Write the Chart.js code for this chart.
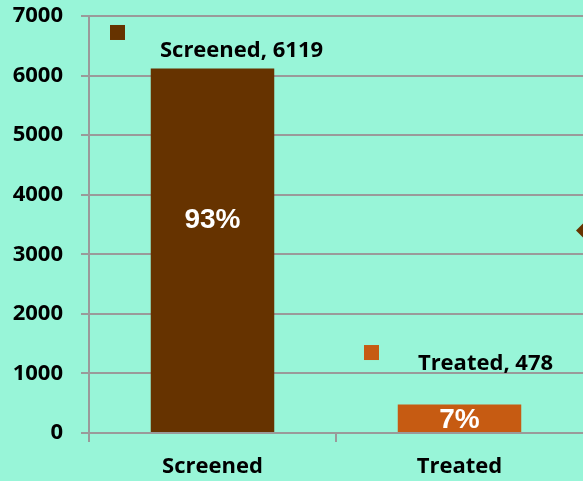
<!DOCTYPE html>
<html>
<head>
<meta charset="utf-8">
<script src="https://cdn.jsdelivr.net/npm/chart.js@4.4.1/dist/chart.umd.min.js"></script>
<style>
  html, body { margin: 0; padding: 0; background: #98F5D8; }
  canvas { display: block; }
</style>
</head>
<body>
<canvas id="screenChart" width="583" height="481"></canvas>
<script>
const categories = ["Screened", "Treated"];
const counts = [6119, 478];
const barColors = ["#663300", "#C65B12"];
const yMax = 7000;
const yStep = 1000;
const markerValue = 3400; // brown diamond cut off at right edge

const total = counts.reduce((a, b) => a + b, 0);
const percents = counts.map((v) => Math.round((v / total) * 100) + "%");

// offsets of the decorations, relative to bar centre / bar top
const deco = [
  { label: [29, -18], square: [-95, -36], pct: 150 },
  { label: [26, -41], square: [-88, -52], pct: null },
];

const bg = "#98F5D8";
const gridCol = "#9a9a9a";
const font = "'Open Sans', sans-serif";

// only the tick marks that belong to a category, none at the far right edge
const xTickCol = (ctx) => (ctx.tick ? gridCol : "rgba(0,0,0,0)");

const extras = {
  id: "extras",
  beforeDraw(chart) {
    const c = chart.ctx;
    c.save();
    c.fillStyle = bg;
    c.fillRect(0, 0, chart.width, chart.height);
    c.restore();
  },
  afterDatasetsDraw(chart) {
    const c = chart.ctx;
    const bars = chart.getDatasetMeta(0).data;
    c.save();
    bars.forEach((bar, i) => {
      const d = deco[i];
      // value label
      c.fillStyle = "#000";
      c.font = "bold 22px " + font;
      c.textAlign = "center";
      c.textBaseline = "middle";
      c.fillText(categories[i] + ", " + counts[i], bar.x + d.label[0], bar.y + d.label[1]);
      // small square marker
      c.fillStyle = barColors[i];
      c.fillRect(bar.x + d.square[0] - 7.5, bar.y + d.square[1] - 7.5, 15, 15);
      // percent inside bar
      c.fillStyle = "#fff";
      c.font = "bold 28px 'Liberation Sans', Arial, sans-serif";
      const py = d.pct === null ? (bar.y + bar.base) / 2 : bar.y + d.pct;
      c.fillText(percents[i], bar.x, py + 2);
    });
    // diamond on the right edge
    const y = chart.scales.y.getPixelForValue(markerValue);
    const x = chart.chartArea.right + 2;
    c.fillStyle = "#663300";
    c.beginPath();
    c.moveTo(x - 9, y);
    c.lineTo(x, y - 9);
    c.lineTo(x + 9, y);
    c.lineTo(x, y + 9);
    c.closePath();
    c.fill();
    c.restore();
  },
};

function draw() {
  new Chart(document.getElementById("screenChart"), {
    type: "bar",
    data: {
      labels: categories,
      datasets: [
        {
          data: counts,
          backgroundColor: barColors,
          categoryPercentage: 1,
          barPercentage: 0.5,
        },
      ],
    },
    options: {
      responsive: false,
      devicePixelRatio: 1,
      animation: false,
      layout: { padding: 0 },
      scales: {
        y: {
          min: 0,
          max: yMax,
          ticks: {
            stepSize: yStep,
            color: "#000",
            padding: 18,
            callback: (v) => String(v),
            font: { family: font, size: 22, weight: "bold" },
          },
          grid: { color: gridCol, lineWidth: 2, tickLength: 8 },
          border: { color: gridCol, width: 2 },
          afterFit: (s) => {
            s.width = 89;
            s.paddingTop = 16;
            s.paddingBottom = 0;
          },
        },
        x: {
          ticks: {
            color: "#000",
            padding: 12,
            font: { family: font, size: 22, weight: "bold" },
          },
          grid: {
            drawOnChartArea: false,
            color: xTickCol,
            tickColor: xTickCol,
            lineWidth: 2,
            tickWidth: (ctx) => (ctx.tick ? 2 : 0),
            tickLength: 9,
            offset: true,
          },
          border: { color: gridCol, width: 2 },
          afterFit: (s) => { s.height = 48; },
        },
      },
      plugins: {
        legend: { display: false },
        tooltip: { enabled: false },
      },
    },
    plugins: [extras],
  });
}

document.fonts.load("bold 22px 'Open Sans'").then(draw, draw);
</script>
</body>
</html>
